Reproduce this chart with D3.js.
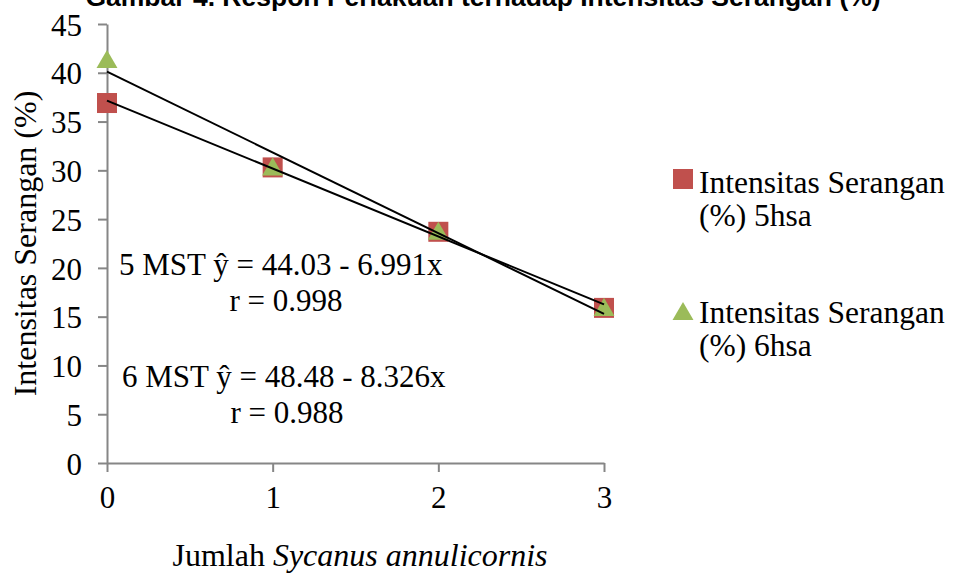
<!DOCTYPE html>
<html>
<head>
<meta charset="utf-8">
<script src="https://cdn.jsdelivr.net/npm/d3@7"></script>
<style>
  body { margin: 0; background: #fff; }
  svg { display: block; }
  .axis path, .axis line { stroke: #868686; stroke-width: 2; }
  .axis text { font-family: "Liberation Serif", "Times New Roman", serif; font-size: 31px; fill: #000; }
</style>
</head>
<body>
<div id="chart"></div>
<script>
var xValues = [0, 1, 2, 3];
var series5hsa = [36.9, 30.3, 23.7, 15.9];
var series6hsa = [41.2, 30.2, 23.6, 15.8];
var seriesNames = ["Intensitas Serangan (%) 5hsa", "Intensitas Serangan (%) 6hsa"];
var yTicks = [0, 5, 10, 15, 20, 25, 30, 35, 40, 45];
var xTicks = [0, 1, 2, 3];
var annotations = [
  ["5 MST ŷ = 44.03 - 6.991x", "r = 0.998"],
  ["6 MST ŷ = 48.48 - 8.326x", "r = 0.988"]
];
var titleText = "Gambar 4. Respon Perlakuan terhadap Intensitas Serangan (%)";

var width = 954, height = 575;
var plot = { left: 107, right: 604, top: 24, bottom: 463 };
var serif = '"Liberation Serif", "Times New Roman", serif';

var svg = d3.select("#chart").append("svg")
    .attr("width", width)
    .attr("height", height);

var x = d3.scaleLinear().domain([0, 3]).range([plot.left, plot.right]);
var y = d3.scaleLinear().domain([0, 45]).range([plot.bottom, plot.top]);

// title, cut off at the top like the original
svg.append("text")
    .attr("x", 483)
    .attr("y", 6)
    .attr("text-anchor", "middle")
    .style("font-family", '"Liberation Sans", Arial, sans-serif')
    .style("font-weight", "bold")
    .style("font-size", "26.5px")
    .text(titleText);

// axes
var yAxis = svg.append("g")
    .attr("class", "axis")
    .attr("transform", "translate(" + plot.left + ",0)")
    .call(d3.axisLeft(y).tickValues(yTicks).tickSize(9).tickSizeOuter(0).tickPadding(16));

var xAxis = svg.append("g")
    .attr("class", "axis")
    .attr("transform", "translate(0," + plot.bottom + ")")
    .call(d3.axisBottom(x).tickValues(xTicks).tickSize(9).tickSizeOuter(0).tickPadding(14).tickFormat(d3.format("d")));

yAxis.selectAll(".tick text").attr("dy", "0.36em");

// axis titles
svg.append("text")
    .attr("transform", "translate(36," + ((plot.top + plot.bottom) / 2) + ") rotate(-90)")
    .attr("text-anchor", "middle")
    .style("font-family", serif)
    .style("font-size", "32px")
    .text("Intensitas Serangan (%)");

var xt = svg.append("text")
    .attr("x", 360)
    .attr("y", 566)
    .attr("text-anchor", "middle")
    .style("font-family", serif)
    .style("font-size", "32px");
xt.append("tspan").text("Jumlah ");
xt.append("tspan").style("font-style", "italic").text("Sycanus annulicornis");

// least squares trendline
function fit(xs, ys) {
  var mx = d3.mean(xs), my = d3.mean(ys);
  var num = d3.sum(xs, function(d, i) { return (d - mx) * (ys[i] - my); });
  var den = d3.sum(xs, function(d) { return (d - mx) * (d - mx); });
  var b = num / den;
  return { a: my - b * mx, b: b };
}

var pts5 = xValues.map(function(d, i) { return { x: d, y: series5hsa[i] }; });
var pts6 = xValues.map(function(d, i) { return { x: d, y: series6hsa[i] }; });

// markers
svg.append("g").selectAll("rect")
    .data(pts5)
    .enter().append("rect")
    .attr("x", function(d) { return x(d.x) - 10; })
    .attr("y", function(d) { return y(d.y) - 10; })
    .attr("width", 20)
    .attr("height", 20)
    .attr("fill", "#C0504D");

var tri = d3.symbol().type(d3.symbolTriangle).size(190);
svg.append("g").selectAll("path")
    .data(pts6)
    .enter().append("path")
    .attr("d", tri)
    .attr("transform", function(d) { return "translate(" + x(d.x) + "," + (y(d.y) + 1) + ")"; })
    .attr("fill", "#9BBB59");

// trendlines on top
[series5hsa, series6hsa].forEach(function(s) {
  var f = fit(xValues, s);
  svg.append("line")
      .attr("x1", x(0)).attr("y1", y(f.a))
      .attr("x2", x(3)).attr("y2", y(f.a + 3 * f.b))
      .attr("stroke", "#000")
      .attr("stroke-width", 2);
});

// regression annotations
var annoPos = [{ x: 119, y: 275 }, { x: 122, y: 387 }];
annotations.forEach(function(a, i) {
  var g = svg.append("g").style("font-family", serif).style("font-size", "31px");
  g.append("text").attr("x", annoPos[i].x).attr("y", annoPos[i].y).text(a[0]);
  g.append("text").attr("x", 286 + i).attr("y", annoPos[i].y + 36)
      .attr("text-anchor", "middle").text(a[1]);
});

// legend
var legend = svg.append("g").style("font-family", serif).style("font-size", "31.5px");
var legY = [193, 323];
legend.append("rect").attr("x", 673).attr("y", 169).attr("width", 20).attr("height", 20).attr("fill", "#C0504D");
legend.append("path").attr("d", tri).attr("transform", "translate(683,314)").attr("fill", "#9BBB59");
["5hsa", "6hsa"].forEach(function(s, i) {
  legend.append("text").attr("x", 699).attr("y", legY[i]).text("Intensitas Serangan");
  legend.append("text").attr("x", 699).attr("y", legY[i] + 33).text("(%) " + s);
});
</script>
</body>
</html>
